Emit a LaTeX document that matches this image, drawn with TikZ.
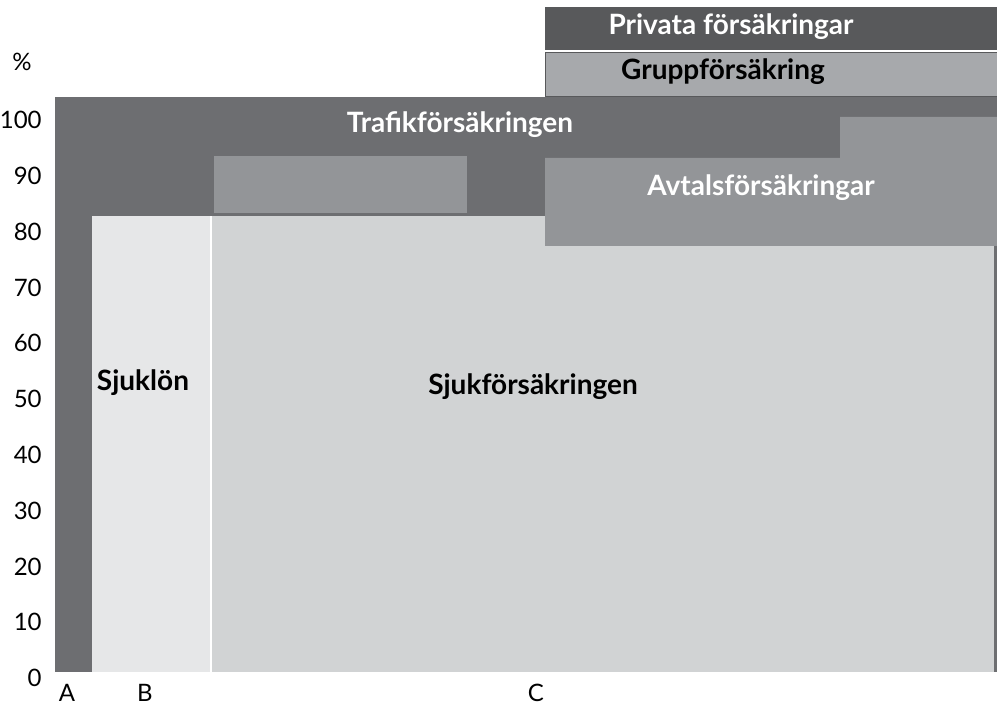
\documentclass[tikz,border=0pt]{standalone}
\usepackage{fontspec}
\setmainfont{Lato}
\definecolor{trafik}{HTML}{6D6E71}
\definecolor{privat}{HTML}{58595B}
\definecolor{avtal}{HTML}{939598}
\definecolor{grupp}{HTML}{A7A9AC}
\definecolor{sjuklon}{HTML}{E6E7E8}
\definecolor{sjukf}{HTML}{D1D3D4}
\tikzset{
  lbl/.style={font=\bfseries\fontsize{14}{16}\selectfont, inner sep=0pt},
  axlbl/.style={font=\fontsize{12}{14}\selectfont, inner sep=0pt}
}
\begin{document}
\begin{tikzpicture}[x=0.5pt,y=-0.5pt]
\useasboundingbox (0,0) rectangle (997,706);
% areas
\fill [trafik] (55,97) rectangle (997,672);
\fill [avtal] (214,156) rectangle (467,213);
\fill [white] (210,216) rectangle (212,672);
\fill [sjuklon] (92,216) rectangle (210,672);
\fill [sjukf] (212,216) rectangle (994,672);
\fill [avtal] (545,158) -- (840,158) -- (840,117) -- (997,117) -- (997,246) -- (545,246) -- cycle;
\draw [privat,fill=privat,line width=0.4pt] (545,7) rectangle (997,49);
\draw [privat,fill=grupp,line width=0.4pt] (545,52) rectangle (997,96);
% labels
\node [lbl,text=white] (trafikl) at (460,125) {Trafikförsäkringen};
\node [lbl,text=white] (privatl) at (731,27) {Privata försäkringar};
\node [lbl] (gruppl) at (723,72) {Gruppförsäkring};
\node [lbl,text=white] (avtall) at (761,188) {Avtalsförsäkringar};
\node [lbl] (sjuklonl) at (143,383) {Sjuklön};
\node [lbl] (sjukfl) at (533,387) {Sjukförsäkringen};
% axis
\node [axlbl] (pct) at (22,62) {\%};
\foreach \v [count=\i from 0] in {0,10,...,100}
  \node [axlbl,anchor=east] (y\i) at (42,678-55.8*\i) {\v};
\node [axlbl] (xa) at (67,693) {A};
\node [axlbl] (xb) at (145,693) {B};
\node [axlbl] (xc) at (536,693) {C};
\end{tikzpicture}
\end{document}
